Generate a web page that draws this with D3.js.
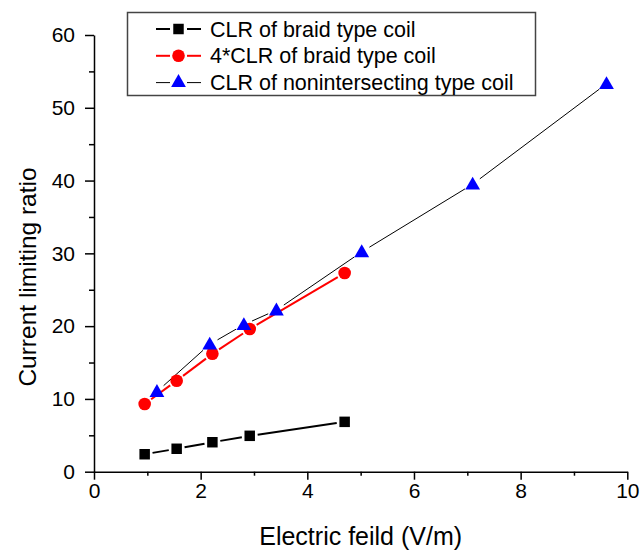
<!DOCTYPE html>
<html>
<head>
<meta charset="utf-8">
<script src="https://cdn.jsdelivr.net/npm/d3@7"></script>
<style>
  html, body { margin: 0; padding: 0; background: #fff; }
  svg { display: block; font-family: Arial, "Liberation Sans", sans-serif; }
</style>
</head>
<body>
<svg id="chart" width="643" height="554"></svg>
<script>
// Electric field (V/m) and current limiting ratio for each coil
const braidField = [0.95, 1.55, 2.22, 2.92, 4.70];
const braidCLR = [2.4, 3.15, 4.05, 4.93, 6.85];
const braidField4 = [0.95, 1.55, 2.22, 2.92, 4.70];
const braidCLR4 = [9.3, 12.5, 16.2, 19.6, 27.3];
const nonField = [1.18, 2.17, 2.81, 3.42, 5.02, 7.10, 9.61];
const nonCLR = [11.0, 17.5, 20.2, 22.2, 30.2, 39.5, 53.3];

const xTicks = [0, 2, 4, 6, 8, 10];
const yTicks = [0, 10, 20, 30, 40, 50, 60];
const seriesNames = [
  "CLR of braid type coil",
  "4*CLR of braid type coil",
  "CLR of nonintersecting type coil"
];

const svg = d3.select("#chart");
const m = { left: 94, right: 627.3, top: 35, bottom: 471.7 };
const fontFamily = "Arial, 'Liberation Sans', sans-serif";

const x = d3.scaleLinear().domain([0, 10]).range([m.left, m.right]);
const y = d3.scaleLinear().domain([0, 60]).range([m.bottom, m.top]);

// Axes: major ticks with labels, minor ticks in between
const xAxis = d3.axisBottom(x).tickValues(xTicks).tickSizeInner(8).tickSizeOuter(0).tickPadding(3).tickFormat(d3.format("d"));
const xMinor = d3.axisBottom(x).tickValues(d3.range(1, 10, 2)).tickSize(4).tickFormat("");
const yAxis = d3.axisLeft(y).tickValues(yTicks).tickSizeInner(9).tickSizeOuter(0).tickPadding(10).tickFormat(d3.format("d"));
const yMinor = d3.axisLeft(y).tickValues(d3.range(5, 60, 10)).tickSize(5).tickFormat("");

function styleAxis(g) {
  g.selectAll("path, line").attr("stroke", "#000").attr("stroke-width", 1.5);
  g.selectAll("text").attr("font-size", 21).attr("fill", "#000").attr("font-family", fontFamily);
}

svg.append("g").attr("transform", `translate(0,${m.bottom})`).call(xAxis).call(styleAxis);
svg.append("g").attr("transform", `translate(0,${m.bottom})`).call(xMinor).call(styleAxis).select(".domain").remove();
svg.append("g").attr("transform", `translate(${m.left},0)`).call(yAxis).call(styleAxis);
svg.append("g").attr("transform", `translate(${m.left},0)`).call(yMinor).call(styleAxis).select(".domain").remove();

// Axis titles
svg.append("text")
  .attr("x", (m.left + m.right) / 2).attr("y", 545)
  .attr("text-anchor", "middle").attr("font-size", 25).attr("fill", "#000")
  .text("Electric feild (V/m)");
svg.append("text")
  .attr("transform", `translate(27,277) rotate(-90)`)
  .attr("text-anchor", "middle").attr("dy", "0.35em").attr("font-size", 24.5).attr("fill", "#000")
  .text("Current limiting ratio");

// Symbol shapes
const sym = {
  square: d3.symbol().type(d3.symbolSquare).size(110),
  circle: d3.symbol().type(d3.symbolCircle).size(125),
  triangle: d3.symbol().type(d3.symbolTriangle).size(95)
};

// Connecting lines with a small gap around each marker
function gappedSegments(g, xs, ys, color, width, gap) {
  const pts = xs.map((v, i) => [x(v), y(ys[i])]);
  const segs = d3.pairs(pts).map(([a, b]) => {
    const dx = b[0] - a[0], dy = b[1] - a[1];
    const len = Math.hypot(dx, dy);
    const ux = dx / len, uy = dy / len;
    return [[a[0] + ux * gap, a[1] + uy * gap], [b[0] - ux * gap, b[1] - uy * gap]];
  });
  g.selectAll(null).data(segs).enter().append("path")
    .attr("d", d => d3.line()(d))
    .attr("stroke", color).attr("stroke-width", width).attr("fill", "none");
}

function markers(g, xs, ys, shape, color, dyOff) {
  g.selectAll(null).data(xs.map((v, i) => [v, ys[i]])).enter().append("path")
    .attr("d", shape)
    .attr("transform", d => `translate(${x(d[0])},${y(d[1]) + (dyOff || 0)})`)
    .attr("fill", color);
}

const plot = svg.append("g");
gappedSegments(plot, nonField, nonCLR, "#000", 1, 9);
gappedSegments(plot, braidField4, braidCLR4, "#ff0000", 2, 8);
gappedSegments(plot, braidField, braidCLR, "#000", 2, 8);
markers(plot, braidField, braidCLR, sym.square, "#000");
markers(plot, braidField4, braidCLR4, sym.circle, "#ff0000");
markers(plot, nonField, nonCLR, sym.triangle, "#0000ff", 1);

// Legend
const leg = svg.append("g");
leg.append("rect").attr("x", 127.5).attr("y", 12.5).attr("width", 408).attr("height", 83)
  .attr("fill", "#fff").attr("stroke", "#444").attr("stroke-width", 1.5);
const legStyle = [
  { color: "#000", width: 2, shape: sym.square, fill: "#000" },
  { color: "#ff0000", width: 2, shape: sym.circle, fill: "#ff0000" },
  { color: "#000", width: 1, shape: sym.triangle, fill: "#0000ff" }
];
seriesNames.forEach((name, i) => {
  const cy = 29 + i * 26.8;
  const s = legStyle[i];
  leg.append("line").attr("x1", 156).attr("x2", 170).attr("y1", cy).attr("y2", cy)
    .attr("stroke", s.color).attr("stroke-width", s.width);
  leg.append("line").attr("x1", 187).attr("x2", 201).attr("y1", cy).attr("y2", cy)
    .attr("stroke", s.color).attr("stroke-width", s.width);
  leg.append("path").attr("d", s.shape).attr("transform", `translate(178.5,${cy})`).attr("fill", s.fill);
  leg.append("text").attr("x", 210).attr("y", cy).attr("dy", "0.35em")
    .attr("font-size", 21.5).attr("fill", "#000").text(name);
});
</script>
</body>
</html>
